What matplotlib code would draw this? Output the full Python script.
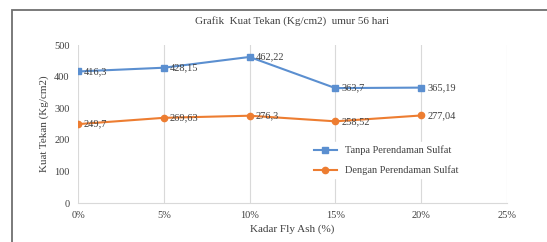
import matplotlib.pyplot as plt
from matplotlib.patches import Rectangle

plt.rcParams['font.family'] = ['Liberation Serif', 'DejaVu Serif']

kadar = [0, 5, 10, 15, 20]
tanpa = [416.3, 428.15, 462.22, 363.7, 365.19]
dengan = [249.7, 269.63, 276.3, 258.52, 277.04]
xticks = [0, 5, 10, 15, 20, 25]
yticks = [0, 100, 200, 300, 400, 500]

fig = plt.figure(figsize=(5.47, 2.42), dpi=100)
ax = fig.add_axes([0.1426, 0.161, 0.784, 0.653])

# outer chart frame
fig.patches.append(Rectangle((12/547, -0.05), 1.0, 1 - 10/242 + 0.05,
                             transform=fig.transFigure, fill=False,
                             edgecolor='#6f6f6f', lw=1.3))

blue = '#5b8fd0'
orange = '#ed7d31'
ax.plot(kadar, tanpa, color=blue, marker='s', ms=4.5, lw=1.5,
        label='Tanpa Perendaman Sulfat')
ax.plot(kadar, dengan, color=orange, marker='o', ms=4.5, lw=1.5,
        label='Dengan Perendaman Sulfat')

for x, v in zip(kadar, tanpa):
    ax.text(x + 0.35, v, str(v).replace('.', ','), fontsize=7.5,
            va='center', ha='left', color='#404040')
for x, v in zip(kadar, dengan):
    ax.text(x + 0.35, v, str(v).replace('.', ','), fontsize=7.5,
            va='center', ha='left', color='#404040')

ax.set_xlim(0, 25)
ax.set_ylim(0, 500)
ax.set_xticks(xticks)
ax.set_xticklabels([f'{t}%' for t in xticks])
ax.set_yticks(yticks)
ax.tick_params(labelsize=7.5, length=0, colors='#404040', pad=6)
ax.grid(axis='x', color='#d9d9d9', lw=0.8)
ax.set_axisbelow(True)
for s in ['top', 'right', 'left']:
    ax.spines[s].set_visible(False)
ax.spines['bottom'].set_color('#d9d9d9')

ax.set_title('Grafik  Kuat Tekan (Kg/cm2)  umur 56 hari', fontsize=8,
             color='#404040', pad=15)
ax.set_ylabel('Kuat Tekan (Kg/cm2)', fontsize=8, color='#404040', labelpad=4)
ax.set_xlabel('Kadar Fly Ash (%)', fontsize=8, color='#404040', labelpad=3)

leg = ax.legend(loc='center left', bbox_to_anchor=(0.53, 0.27), fontsize=7.5,
                frameon=True, framealpha=1, edgecolor='white', labelspacing=1.0,
                handlelength=2.2, borderpad=0.3)
for t in leg.get_texts():
    t.set_color('#404040')

fig.savefig('out.png', dpi=100)
